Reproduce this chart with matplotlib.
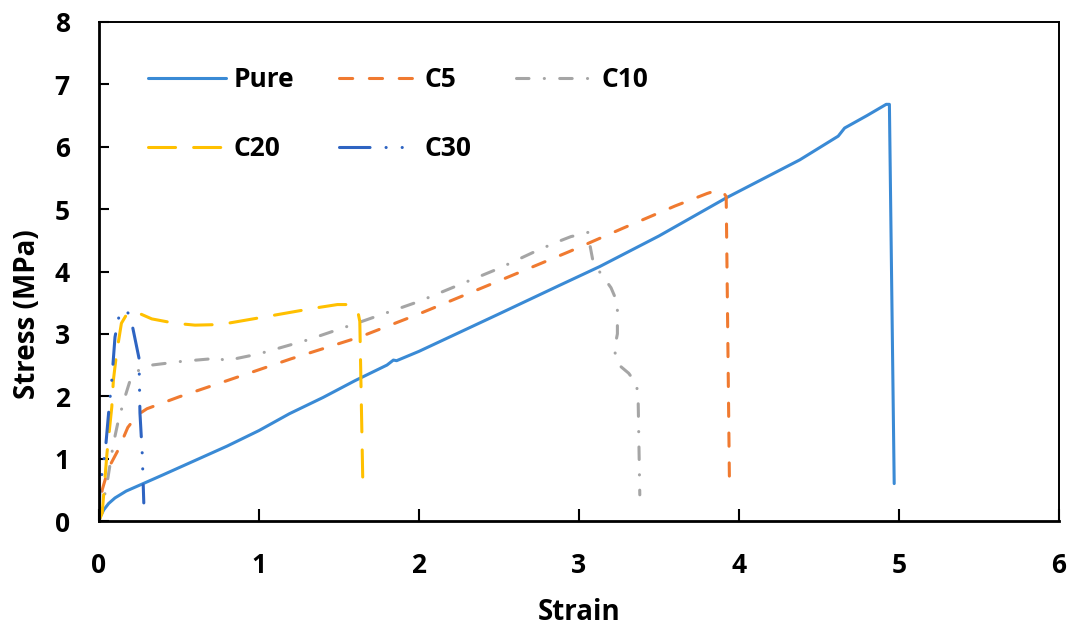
import matplotlib
matplotlib.use("Agg")
import matplotlib.pyplot as plt

plt.rcParams['font.family'] = ['Open Sans', 'DejaVu Sans']
plt.rcParams['font.weight'] = 'bold'
plt.rcParams['lines.scale_dashes'] = False

# ---------------- data ----------------
pure_x = [0, 0.01, 0.03, 0.06, 0.1, 0.17, 0.25, 0.4, 0.6, 0.8, 1.0, 1.19, 1.4, 1.6, 1.8, 1.84, 1.86,
          2.0, 2.5, 2.88, 3.13, 3.5, 3.92, 4.38, 4.62, 4.66, 4.8, 4.92, 4.94, 4.97]
pure_y = [0, 0.08, 0.18, 0.28, 0.37, 0.48, 0.57, 0.74, 0.97, 1.2, 1.45, 1.72, 1.98, 2.25, 2.5, 2.58, 2.57,
          2.72, 3.32, 3.78, 4.08, 4.57, 5.18, 5.79, 6.17, 6.3, 6.5, 6.68, 6.68, 0.6]

c5_x = [0, 0.02, 0.06, 0.12, 0.18, 0.24, 0.3, 0.5, 0.8, 1.2, 1.63, 2.0, 2.5, 2.94, 3.28, 3.6,
        3.8, 3.86, 3.9, 3.92, 3.94]
c5_y = [0, 0.5, 0.85, 1.14, 1.5, 1.7, 1.8, 1.99, 2.25, 2.6, 2.95, 3.32, 3.85, 4.32, 4.7, 5.05,
        5.25, 5.3, 5.28, 5.2, 0.69]

c10_x = [0, 0.03, 0.05, 0.09, 0.12, 0.16, 0.2, 0.25, 0.33, 0.52, 0.7, 0.75, 0.78, 0.85, 1.0,
         1.3, 1.61, 2.0, 2.5, 2.75, 2.88, 2.95, 3.02, 3.06, 3.07, 3.09, 3.15, 3.2, 3.24, 3.24,
         3.22, 3.25, 3.31, 3.36, 3.37, 3.38]
c10_y = [0, 0.35, 0.6, 1.24, 1.6, 1.97, 2.3, 2.42, 2.5, 2.56, 2.6, 2.63, 2.57, 2.6, 2.68,
         2.9, 3.17, 3.52, 4.05, 4.35, 4.49, 4.56, 4.6, 4.63, 4.4, 4.13, 3.92, 3.74, 3.5, 3.0,
         2.74, 2.5, 2.37, 2.2, 1.9, 0.42]

c20_x = [0, 0.02, 0.05, 0.08, 0.09, 0.11, 0.14, 0.17, 0.2, 0.25, 0.33, 0.475, 0.6, 0.76, 1.03,
         1.34, 1.49, 1.56, 1.6, 1.62, 1.63, 1.65]
c20_y = [0, 0.13, 1.09, 1.83, 2.26, 2.69, 3.17, 3.3, 3.36, 3.33, 3.24, 3.17, 3.14, 3.15, 3.27,
         3.41, 3.47, 3.47, 3.43, 3.33, 3.2, 0.46]

c30_x = [0, 0.006, 0.04, 0.06, 0.08, 0.1, 0.13, 0.17, 0.19, 0.21, 0.25, 0.256, 0.27, 0.28]
c30_y = [0, 0.55, 1.14, 1.73, 2.26, 2.95, 3.35, 3.38, 3.3, 3.11, 2.61, 1.73, 1.09, 0.29]

labels = ["Pure", "C5", "C10", "C20", "C30"]
x_ticks = [0, 1, 2, 3, 4, 5, 6]
y_ticks = [0, 1, 2, 3, 4, 5, 6, 7, 8]

# ---------------- figure ----------------
W, H = 1069, 630
fig = plt.figure(figsize=(W / 100, H / 100), dpi=100)
ax = fig.add_axes([99 / W, 1 - 521 / H, 960 / W, 499 / H])

lw = 2.2
styles = [
    dict(color="#3A8AD5", linestyle="-", solid_capstyle="round"),
    dict(color="#F07A30", linestyle=(0, (9.5, 12.0)), dash_capstyle="round"),
    dict(color="#A5A5A5", linestyle=(0, (9.0, 11.0, 0.1, 11.0)), dash_capstyle="round"),
    dict(color="#FFC000", linestyle=(0, (19.5, 13.0)), dash_capstyle="round"),
    dict(color="#2E64C2", linestyle=(0, (22, 11.5, 0.1, 11.5, 0.1, 11.5)), dash_capstyle="round"),
]
series = [(pure_x, pure_y), (c5_x, c5_y), (c10_x, c10_y), (c20_x, c20_y), (c30_x, c30_y)]
handles = []
for (xs, ys), st, lab in zip(series, styles, labels):
    h, = ax.plot(xs, ys, lw=lw, label=lab, solid_joinstyle="round", **st)
    handles.append(h)

ax.set_xlim(0, 6)
ax.set_ylim(0, 8)
ax.set_xticks(x_ticks)
ax.set_yticks(y_ticks)
ax.tick_params(axis="x", direction="in", length=8.5, width=1.5, pad=22, labelsize=19)
ax.tick_params(axis="y", direction="in", length=7, width=1.5, pad=21, labelsize=19)
for lab in ax.get_xticklabels() + ax.get_yticklabels():
    lab.set_fontweight("bold")

for s in ["left", "bottom"]:
    ax.spines[s].set_linewidth(2.0)
for s in ["top", "right"]:
    ax.spines[s].set_linewidth(1.4)

ax.set_xlabel("Strain", fontsize=20, fontweight="bold")
ax.set_ylabel("Stress (MPa)", fontsize=20, fontweight="bold")
ax.xaxis.set_label_coords(0.5, (521 - 612) / 499)
ax.yaxis.set_label_coords((28 - 99) / 960, (521 - 314) / 499)
ax.xaxis.label.set_va("center")
ax.yaxis.label.set_va("center")

order = [0, 3, 1, 4, 2]
leg = ax.legend([handles[i] for i in order], [labels[i] for i in order], ncol=3,
                loc="upper left", bbox_to_anchor=((148 - 99) / 960, (521 - 66) / 499),
                frameon=False, borderpad=0, borderaxespad=0,
                handlelength=2.95, handletextpad=0.3, columnspacing=1.68, labelspacing=1.6,
                prop=dict(family=['Open Sans', 'DejaVu Sans'], weight="bold", size=19))

fig.savefig("out.png", dpi=100)
